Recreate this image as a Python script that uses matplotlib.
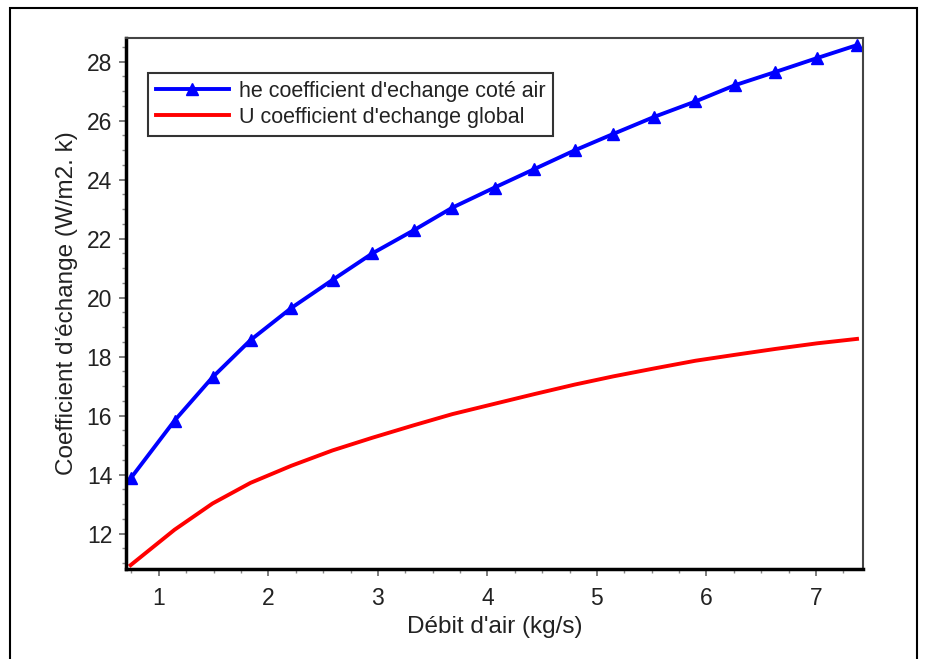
import numpy as np
import matplotlib
matplotlib.use('Agg')
import matplotlib.pyplot as plt
from matplotlib.patches import Rectangle
from matplotlib.ticker import MultipleLocator

# debit d'air (kg/s)
debit = [0.742, 1.143, 1.49, 1.837, 2.21, 2.586, 2.95, 3.326, 3.68, 4.065,
         4.43, 4.796, 5.15, 5.525, 5.90, 6.26, 6.63, 7.01, 7.375]

# he coefficient d'echange cote air
he = [13.87, 15.83, 17.30, 18.56, 19.65, 20.60, 21.50, 22.28, 23.05, 23.73,
      24.36, 24.99, 25.55, 26.13, 26.65, 27.20, 27.65, 28.12, 28.56]

# U coefficient d'echange global
U = [10.93, 12.13, 13.02, 13.72, 14.30, 14.82, 15.25, 15.67, 16.05, 16.40,
     16.73, 17.05, 17.33, 17.60, 17.86, 18.06, 18.26, 18.45, 18.60]

plt.rcParams['font.family'] = ['Liberation Sans', 'DejaVu Sans']
txt_col = '#222222'

fig = plt.figure(figsize=(9.3, 6.59), dpi=100)
ax = fig.add_axes([0.1355, 0.1366, 0.7925, 0.8057])

# outer frame around the figure
fig.patches.append(Rectangle((0.0108, -0.02), 0.975, 1.0079, transform=fig.transFigure,
                             fill=False, edgecolor='black', linewidth=1.5))

ax.plot(debit, he, color='#0000ff', linewidth=2.8, marker='^', markersize=8,
        label="he coefficient d'echange coté air")
ax.plot(debit, U, color='#ff0000', linewidth=2.8,
        label="U coefficient d'echange global")

ax.set_xlim(0.7, 7.43)
ax.set_ylim(10.8, 28.8)
ax.xaxis.set_major_locator(MultipleLocator(1))
ax.xaxis.set_minor_locator(MultipleLocator(0.25))
ax.yaxis.set_major_locator(MultipleLocator(2))
ax.yaxis.set_minor_locator(MultipleLocator(0.5))

ax.spines['left'].set_linewidth(2.5)
ax.spines['bottom'].set_linewidth(2.5)
ax.spines['top'].set_linewidth(1.5)
ax.spines['right'].set_linewidth(1.5)
ax.spines['top'].set_color('#444444')
ax.spines['right'].set_color('#444444')

ax.tick_params(which='major', direction='out', length=5, width=1.2, color='#666666',
               labelsize=16.5, labelcolor=txt_col, top=False, right=False)
ax.tick_params(axis='x', which='major', pad=8)
ax.tick_params(axis='y', which='major', pad=5)
ax.tick_params(which='minor', direction='out', length=3, width=1, color='#888888',
               top=False, right=False)

ax.set_xlabel("Débit d'air (kg/s)", fontsize=17.5, color=txt_col, labelpad=4)
ax.set_ylabel("Coefficient d'échange (W/m2. k)", fontsize=17.5, color=txt_col, labelpad=6)

leg = ax.legend(loc='upper left', bbox_to_anchor=(0.03, 0.934), borderaxespad=0,
                fontsize=15.5, frameon=True, fancybox=False, edgecolor='black',
                borderpad=0.35, handlelength=3.4, labelspacing=0.25, handletextpad=0.45)
leg.get_frame().set_linewidth(1.5)
for t in leg.get_texts():
    t.set_color(txt_col)

fig.savefig('out.png', dpi=100)
